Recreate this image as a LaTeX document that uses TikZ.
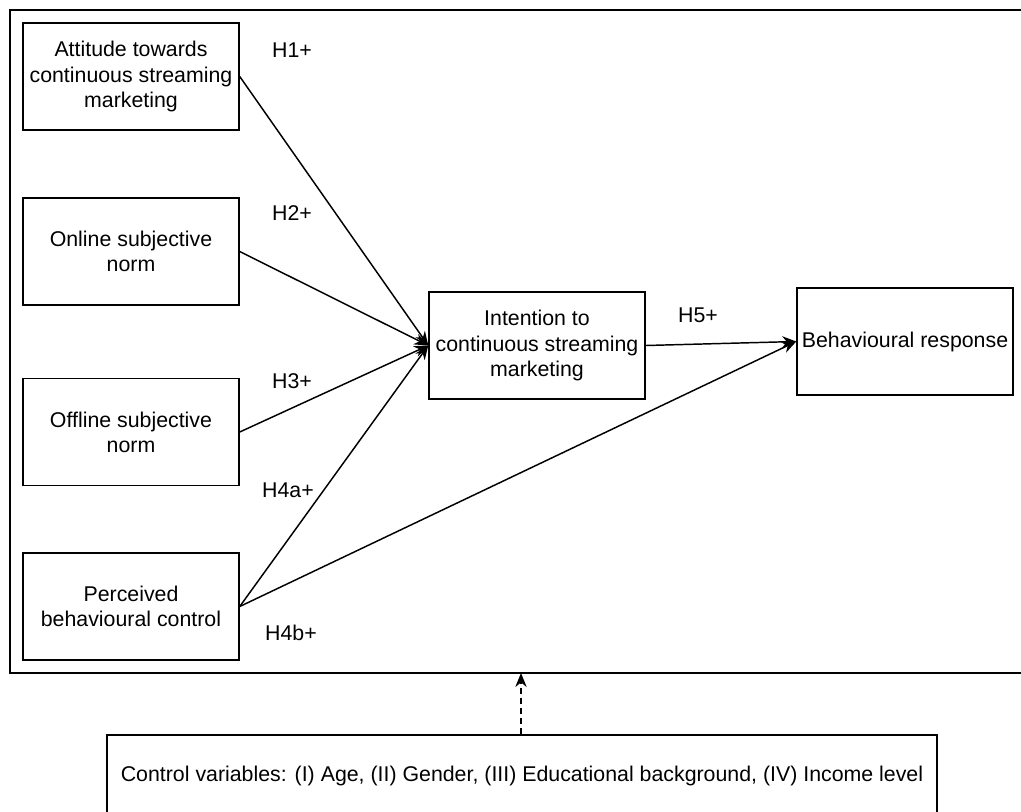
\documentclass[tikz,border=0pt]{standalone}
\usepackage{fontspec}
\setmainfont{Liberation Sans}
\usetikzlibrary{arrows.meta}

\tikzset{
	varbox/.style={draw, line width=1.1pt, minimum width=162pt, minimum height=80.25pt, inner sep=0.75pt, align=center, font=\fontsize{16}{18.8}\selectfont},
	hlabel/.style={inner sep=0.75pt, font=\fontsize{16}{18.8}\selectfont},
	link/.style={line width=1.1pt, -{Stealth[length=10.5pt, width=8.5pt]}}
}

\begin{document}
\begin{tikzpicture}[x=0.75pt,y=0.75pt,yscale=-1,xscale=1]
	\useasboundingbox (0,0) rectangle (1021,811);
	\clip (0,0) rectangle (1021,811);
	\draw [line width=1.1pt] (10,10) rectangle (1040,673);
	\node [varbox] (att) at (131,76.5) {Attitude towards\\continuous streaming\\marketing};
	\node [varbox] (onl) at (131,251.5) {Online subjective\\norm};
	\node [varbox] (off) at (131,432) {Offline subjective\\norm};
	\node [varbox] (pbc) at (131,606.5) {Perceived\\behavioural control};
	\node [varbox] (int) at (537,345.5) {Intention to\\continuous streaming\\marketing};
	\node [varbox] (beh) at (905,341.5) {Behavioural response};
	\node [varbox, minimum width=622.5pt, minimum height=61.5pt] (ctrl) at (522,776) {Control variables: (I) Age, (II) Gender, (III) Educational background, (IV) Income level};
	\coordinate (frame) at (521,673);
	\draw [link] (att.east) -- (int.west);
	\draw [link] (onl.east) -- (int.west);
	\draw [link] (off.east) -- (int.west);
	\draw [link] (pbc.east) -- (int.west);
	\draw [link] (pbc.east) -- (beh.west);
	\draw [link] (int.east) -- (beh.west);
	\draw [link, dash pattern=on 4.5pt off 3pt] (ctrl.north -| frame) -- (frame);
	\node [hlabel] (h1) at (292,50) {H1+};
	\node [hlabel] (h2) at (292,213) {H2+};
	\node [hlabel] (h3) at (292,381) {H3+};
	\node [hlabel] (h4a) at (288,490) {H4a+};
	\node [hlabel] (h4b) at (291,633) {H4b+};
	\node [hlabel] (h5) at (698,315) {H5+};
\end{tikzpicture}
\end{document}
